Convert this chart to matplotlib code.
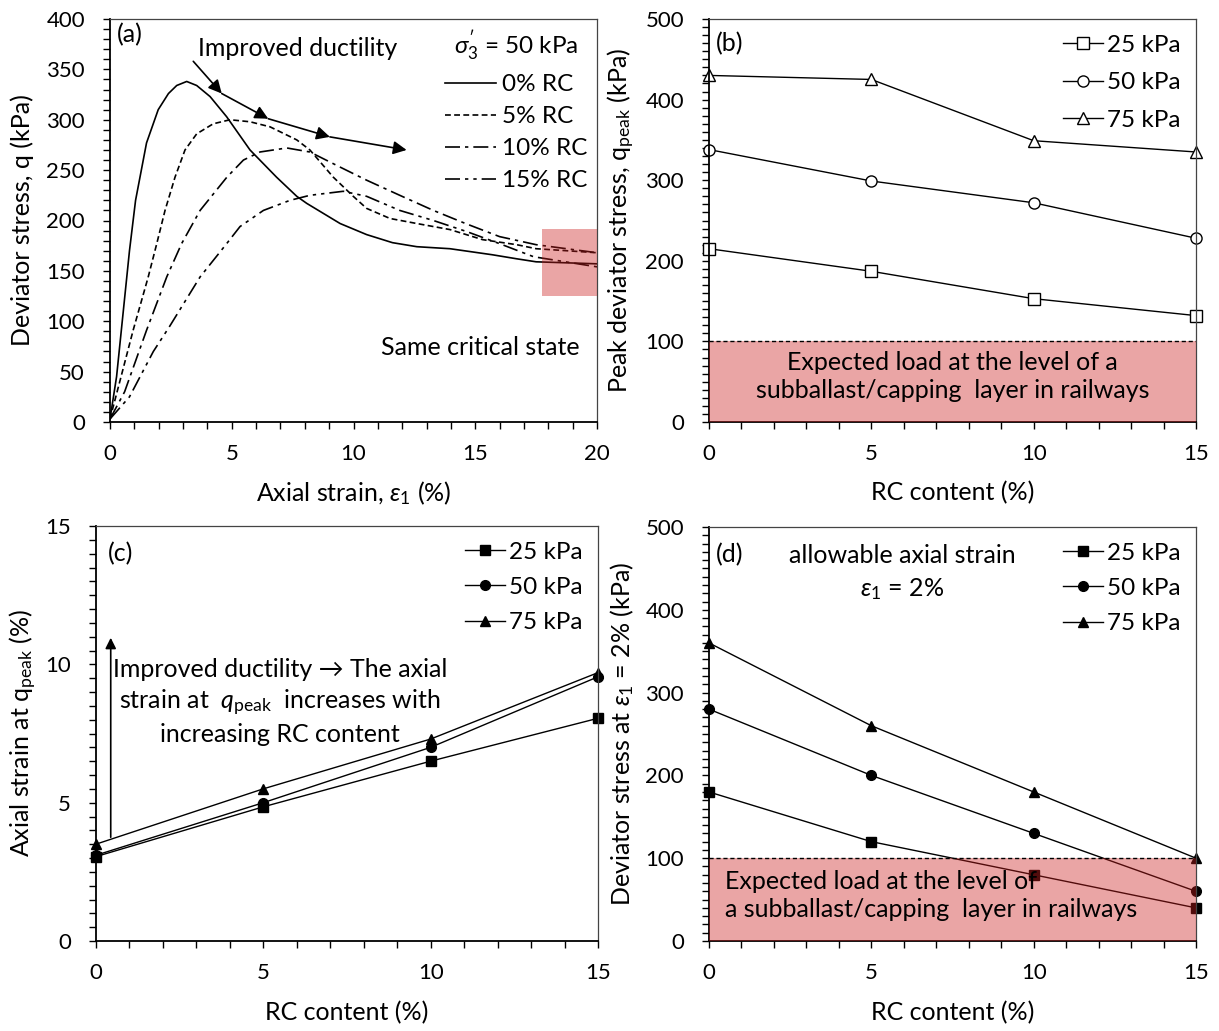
import matplotlib
matplotlib.use("Agg")
import matplotlib.pyplot as plt
from matplotlib.patches import Rectangle
from matplotlib.ticker import MultipleLocator

plt.rcParams["font.family"] = ["Lato", "DejaVu Sans"]
plt.rcParams["mathtext.fontset"] = "custom"
plt.rcParams["mathtext.rm"] = "Lato"
plt.rcParams["mathtext.it"] = "Lato:italic"
plt.rcParams["mathtext.fallback"] = "stixsans"

# ---------------- (a) stress-strain curves, sigma3' = 50 kPa ----------------
strain_0 = [0, 0.27, 0.55, 0.8, 1.05, 1.5, 1.98, 2.4, 2.74, 3.15, 3.56, 4.11, 4.79,
            5.75, 6.84, 7.67, 8.08, 9.45, 10.54, 11.6, 12.6, 13.96, 15.7, 16.7,
            17.5, 18.75, 20]
q_0 = [3, 45, 111, 170, 220, 277, 310, 326, 334, 338, 334, 323, 303,
       270, 243, 224, 217, 197, 186, 178, 174, 172, 166, 162,
       159, 158, 157]

strain_5 = [0, 0.4, 0.95, 1.57, 1.92, 2.26, 2.67, 3.08, 3.56, 4.24, 4.93, 5.75,
            6.57, 7.67, 8.21, 9.17, 9.99, 10.54, 11.5, 12.6, 13.96, 15.3, 16.7,
            17.5, 20]
q_5 = [3, 40, 91, 144, 177, 210, 243, 270, 286, 296, 300, 298,
       293, 280, 270, 243, 224, 212, 202, 197, 191, 181, 176,
       172, 168]

strain_10 = [0, 0.6, 1.5, 2.33, 2.94, 3.7, 4.8, 5.48, 6.16, 7.26, 8.21, 9.45,
             10.54, 11.9, 13.28, 14.6, 16.0, 17.5, 20]
q_10 = [3, 30, 91, 144, 177, 210, 243, 260, 268, 272, 268, 253,
        240, 225, 210, 197, 184, 176, 168]

strain_15 = [0, 0.8, 1.78, 2.45, 3.70, 4.79, 5.34, 6.30, 7.39, 8.21, 9.58, 10.54,
             11.9, 13.28, 14.65, 16.0, 17.4, 20]
q_15 = [3, 25, 70, 95, 144, 177, 194, 210, 220, 225, 229, 224,
        210, 200, 189, 177, 164, 154]

# arrow path showing the shift of the peak
arrow_x = [3.42, 4.59, 6.5, 9.03, 12.18]
arrow_q = [358, 326, 301, 283, 270]

# ---------------- (b)-(d) summary vs RC content ----------------
rc = [0, 5, 10, 15]
peak_25 = [215, 187, 153, 132]
peak_50 = [338, 299, 272, 228]
peak_75 = [430, 425, 349, 335]

strain_peak_25 = [3.05, 4.85, 6.5, 8.05]
strain_peak_50 = [3.1, 5.0, 7.0, 9.55]
strain_peak_75 = [3.5, 5.5, 7.3, 9.7]

q2_25 = [180, 120, 80, 40]
q2_50 = [280, 200, 130, 60]
q2_75 = [360, 260, 180, 100]

pressure_labels = ["25 kPa", "50 kPa", "75 kPa"]
rc_labels = ["0% RC", "5% RC", "10% RC", "15% RC"]
expected_load = 100

OVERLAY = (0.80, 0.12, 0.12)
OVERLAY_ALPHA = 0.40
TXT = 18
TICK = 16
LEG = 17.5

W, H = 1219, 1031
fig = plt.figure(figsize=(W / 100, H / 100), dpi=100)


def box(l, t, r, b):
    return [l / W, 1 - b / H, (r - l) / W, (b - t) / H]


ax_a = fig.add_axes(box(110, 19, 597, 422))
ax_b = fig.add_axes(box(709, 19, 1196, 422))
ax_c = fig.add_axes(box(96, 526, 598, 941))
ax_d = fig.add_axes(box(709, 527, 1196, 941))


def style(ax, xmin, ymin):
    for s in ("left", "bottom"):
        ax.spines[s].set_linewidth(1.3)
        ax.spines[s].set_color("black")
    for s in ("top", "right"):
        ax.spines[s].set_linewidth(0.9)
        ax.spines[s].set_color("#444444")
    ax.xaxis.set_minor_locator(MultipleLocator(xmin))
    ax.yaxis.set_minor_locator(MultipleLocator(ymin))
    ax.tick_params(which="both", direction="out", top=False, right=False,
                   width=1.0, length=5, labelsize=TICK, colors="black")
    ax.tick_params(axis="x", which="both", pad=11)
    ax.tick_params(axis="y", which="both", pad=13)


def place_labels(ax, xlabel, ylabel, xl_y, yl_x):
    ax.set_xlabel(xlabel, fontsize=TXT, va="center")
    ax.set_ylabel(ylabel, fontsize=TXT, va="center")
    ax.xaxis.set_label_coords(0.5, xl_y)
    ax.yaxis.set_label_coords(yl_x, 0.5)


# ---- (a) ----
ax = ax_a
styles = ["-", (0, (3.5, 2)), (0, (9, 3, 2, 3)), (0, (9, 3, 2, 3, 2, 3))]
for xs, ys, ls, lab in zip([strain_0, strain_5, strain_10, strain_15],
                           [q_0, q_5, q_10, q_15], styles, rc_labels):
    ax.plot(xs, ys, color="black", lw=1.2, ls=ls, label=lab)
ax.set_xlim(0, 20)
ax.set_ylim(0, 400)
ax.xaxis.set_major_locator(MultipleLocator(5))
ax.yaxis.set_major_locator(MultipleLocator(50))
style(ax, 1, 10)
ax.add_patch(Rectangle((17.75, 125), 2.25, 67, facecolor=OVERLAY,
                       alpha=OVERLAY_ALPHA, lw=0, zorder=3))
for i in range(len(arrow_x) - 1):
    ax.annotate("", xy=(arrow_x[i + 1], arrow_q[i + 1]),
                xytext=(arrow_x[i], arrow_q[i]),
                arrowprops=dict(arrowstyle="-|>", color="black", lw=1.2,
                                mutation_scale=20, shrinkA=0, shrinkB=0))
ax.text(7.7, 371, "Improved ductility", fontsize=TXT, ha="center", va="center")
ax.text(0.3, 384, "(a)", fontsize=TXT, ha="left", va="center")
ax.text(15.2, 74, "Same critical state", fontsize=TXT, ha="center", va="center")
ax.legend(loc="upper right", bbox_to_anchor=(1.0, 1.0), frameon=False,
          fontsize=LEG, handlelength=2.1, handletextpad=0.25,
          labelspacing=0.45, borderaxespad=0.2, borderpad=0.2,
          title=r"$\sigma_3'$ = 50 kPa", title_fontsize=LEG)
place_labels(ax, r"Axial strain, $\varepsilon_1$ (%)", "Deviator stress, q (kPa)",
             -0.176, -0.181)


def summary_panel(ax, ys, markers, filled, ylim, ymaj, ymin, spacing):
    for y, m, lab in zip(ys, markers, pressure_labels):
        ax.plot(rc, y, color="black", lw=1.0, marker=m[0], markersize=m[1],
                markerfacecolor="black" if filled else "white",
                markeredgecolor="black", markeredgewidth=1.0,
                label=lab, clip_on=False, zorder=2)
    ax.set_xlim(0, 15)
    ax.set_ylim(*ylim)
    ax.xaxis.set_major_locator(MultipleLocator(5))
    ax.yaxis.set_major_locator(MultipleLocator(ymaj))
    style(ax, 1, ymin)
    ax.legend(loc="upper right", bbox_to_anchor=(1.0, 1.0), frameon=False,
              fontsize=LEG, handlelength=1.65, handletextpad=0.15,
              labelspacing=spacing, borderaxespad=0.2, borderpad=0.45)


# ---- (b) ----
ax = ax_b
summary_panel(ax, [peak_25, peak_50, peak_75],
              [("s", 8), ("o", 8), ("^", 8)], False, (0, 500), 100, 10, 0.68)
ax.add_patch(Rectangle((0, 0), 15, expected_load, facecolor=OVERLAY,
                       alpha=OVERLAY_ALPHA, lw=0, zorder=3))
ax.axhline(expected_load, color="black", lw=1.0, ls=(0, (3, 2)), zorder=4)
ax.text(7.5, 56, "Expected load at the level of a\nsubballast/capping  layer in railways",
        fontsize=TXT, ha="center", va="center", linespacing=1.25, zorder=5)
ax.text(0.2, 470, "(b)", fontsize=TXT, ha="left", va="center")
place_labels(ax, "RC content (%)", r"Peak deviator stress, q$_{\rm peak}$ (kPa)",
             -0.176, -0.179)

# ---- (c) ----
ax = ax_c
summary_panel(ax, [strain_peak_25, strain_peak_50, strain_peak_75],
              [("s", 7), ("o", 7), ("^", 7)], True, (0, 15), 5, 0.5, 0.58)
ax.annotate("", xy=(0.44, 10.96), xytext=(0.44, 3.75),
            arrowprops=dict(arrowstyle="-|>", color="black", lw=1.2,
                            mutation_scale=16, shrinkA=0, shrinkB=0))
ax.text(5.5, 9.8, "Improved ductility \u2192 The axial", fontsize=TXT,
        ha="center", va="center")
ax.text(5.5, 8.6, r"strain at  $q_{\mathrm{peak}}$  increases with", fontsize=TXT,
        ha="center", va="center")
ax.text(5.5, 7.45, "increasing RC content", fontsize=TXT,
        ha="center", va="center")
ax.text(0.35, 14.0, "(c)", fontsize=TXT, ha="left", va="center")
place_labels(ax, "RC content (%)", r"Axial strain at q$_{\rm peak}$ (%)",
             -0.173, -0.145)

# ---- (d) ----
ax = ax_d
summary_panel(ax, [q2_25, q2_50, q2_75],
              [("s", 7), ("o", 7), ("^", 7)], True, (0, 500), 100, 10, 0.58)
ax.add_patch(Rectangle((0, 0), 15, expected_load, facecolor=OVERLAY,
                       alpha=OVERLAY_ALPHA, lw=0, zorder=3))
ax.axhline(expected_load, color="black", lw=1.0, ls=(0, (3, 2)), zorder=4)
ax.text(0.5, 55, "Expected load at the level of\na subballast/capping  layer in railways",
        fontsize=TXT, ha="left", va="center", linespacing=1.25, zorder=5)
ax.text(0.2, 467, "(d)", fontsize=TXT, ha="left", va="center")
ax.text(5.95, 466, "allowable axial strain", fontsize=TXT, ha="center", va="center")
ax.text(5.95, 425, r"$\varepsilon_1$ = 2%", fontsize=TXT, ha="center", va="center")
place_labels(ax, "RC content (%)", r"Deviator stress at $\varepsilon_1$ = 2% (kPa)",
             -0.174, -0.179)

fig.savefig("out.png", dpi=100)
